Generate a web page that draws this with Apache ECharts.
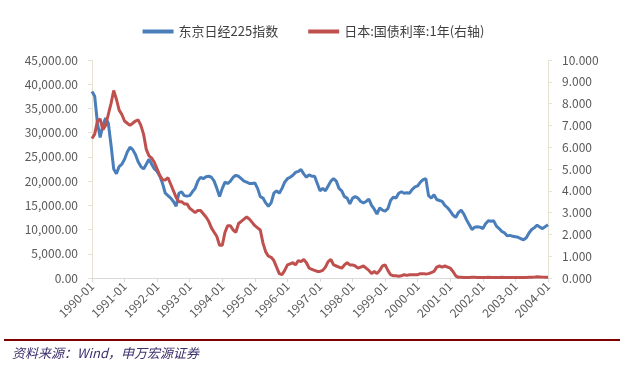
<!DOCTYPE html>
<html>
<head>
<meta charset="utf-8">
<script src="https://cdn.jsdelivr.net/npm/echarts@6/dist/echarts.min.js"></script>
<style>
html,body{margin:0;padding:0;background:#fff;}
#c{width:627px;height:366px;position:relative;}
#src{position:absolute;left:12px;top:343px;font-family:"Noto Sans CJK SC",sans-serif;font-style:italic;font-size:13px;color:#3d2f6b;}
#bar{position:absolute;left:4px;top:339px;width:616px;height:2px;background:#7f0000;}
</style>
</head>
<body>
<div id="c"></div>
<div id="bar"></div>
<div id="src">资料来源：Wind，申万宏源证券</div>
<script>
const seriesNames = ['东京日经225指数', '日本:国债利率:1年(右轴)'];
const startYear = 1990, endYear = 2004;
const categories = [];
for (let y = startYear; y <= endYear; y++) {
  for (let m = 1; m <= 12; m++) {
    if (y === endYear && m > 1) break;
    categories.push(y + '-' + (m < 10 ? '0' + m : m));
  }
}
const nikkei = [
  38500,37500,32000,29000,31500,33000,32000,27500,22500,21500,23000,23500,
  24500,26000,27000,26500,25500,24000,23000,22500,23500,24500,23500,22500,
  22000,21000,19500,17500,17000,16500,15800,14800,17500,17800,17000,16900,
  17000,17800,18500,20000,20800,20500,20900,21000,20800,20000,18500,16800,
  18500,19800,19500,20000,20800,21200,21000,20500,20000,19800,19500,19500,
  19600,18500,16800,16500,15500,14800,15500,17500,18000,17500,18500,19800,
  20500,20800,21200,21800,22000,22400,21500,20800,21300,21000,21000,19500,
  18000,18500,18000,19000,20000,20500,20000,18500,18000,16800,16500,15300,
  16500,16800,16500,15800,15500,15800,16300,15000,14200,13200,14500,14000,
  13800,14300,16000,16700,16500,17500,17800,17500,17600,17500,18300,18800,
  19000,19800,20300,20500,17000,16500,17200,16200,16000,15800,15000,14500,
  13800,13000,12500,13500,14000,13200,12000,11000,10000,10500,10600,10500,
  10200,11200,11800,11700,11800,10700,10200,9600,9300,8700,8800,8600,
  8500,8400,8100,7900,8300,9300,10000,10400,10900,10500,10200,10600,
  11000
];
const rate1y = [
  6.4,6.6,7.2,7.3,6.8,7.0,7.5,8.0,8.6,8.2,7.7,7.5,
  7.2,7.1,7.0,7.1,7.2,7.25,7.0,6.6,5.9,5.6,5.5,5.3,
  5.0,4.7,4.5,4.5,4.6,4.3,4.0,3.7,3.5,3.5,3.4,3.4,
  3.2,3.1,3.0,3.1,3.1,2.95,2.8,2.6,2.3,2.1,1.9,1.5,
  1.5,2.1,2.4,2.4,2.2,2.1,2.5,2.6,2.7,2.8,2.7,2.55,
  2.4,2.3,2.2,1.6,1.2,1.0,0.95,0.8,0.5,0.2,0.15,0.35,
  0.6,0.65,0.7,0.6,0.8,0.75,0.85,0.7,0.45,0.4,0.35,0.3,
  0.3,0.35,0.5,0.75,0.85,0.6,0.55,0.5,0.45,0.6,0.7,0.6,
  0.6,0.55,0.45,0.5,0.55,0.45,0.35,0.2,0.3,0.2,0.35,0.55,
  0.6,0.35,0.15,0.1,0.1,0.08,0.1,0.15,0.12,0.15,0.15,0.15,
  0.15,0.2,0.2,0.18,0.2,0.25,0.3,0.5,0.55,0.5,0.55,0.5,
  0.45,0.3,0.1,0.03,0.03,0.02,0.02,0.02,0.03,0.03,0.02,0.02,
  0.02,0.02,0.03,0.02,0.02,0.02,0.02,0.03,0.02,0.02,0.02,0.02,
  0.02,0.02,0.02,0.02,0.02,0.03,0.03,0.04,0.06,0.05,0.04,0.03,
  0.03
];
const leftTicks = {min: 0, max: 45000, interval: 5000};
const rightTicks = {min: 0, max: 10, interval: 1};

const chart = echarts.init(document.getElementById('c'), null, {renderer: 'canvas'});
const font = '"Noto Sans CJK SC", "Noto Sans", sans-serif';
chart.setOption({
  animation: false,
  backgroundColor: '#fff',
  textStyle: {fontFamily: font},
  legend: {
    top: 20,
    left: 'center',
    itemWidth: 31,
    itemHeight: 4,
    itemGap: 30,
    icon: 'rect',
    textStyle: {fontSize: 13, color: '#404040', fontFamily: font},
    data: seriesNames
  },
  grid: {left: 92, right: 79, top: 60, bottom: 88},
  xAxis: {
    type: 'category',
    boundaryGap: false,
    data: categories,
    axisLine: {lineStyle: {color: '#d9d9d9', width: 1}},
    axisTick: {interval: 11, length: 4, lineStyle: {color: '#d9d9d9'}},
    axisLabel: {interval: 11, rotate: 45, fontSize: 12, color: '#595959', margin: 6, fontFamily: font},
    splitLine: {show: false}
  },
  yAxis: [
    {
      type: 'value', min: leftTicks.min, max: leftTicks.max, interval: leftTicks.interval,
      axisLine: {show: true, lineStyle: {color: '#e6e2d3'}},
      axisTick: {show: true, length: 4, lineStyle: {color: '#e6e2d3'}},
      splitLine: {show: false},
      axisLabel: {
        fontSize: 12, color: '#595959', margin: 14, fontFamily: font,
        formatter: v => v.toLocaleString('en-US', {minimumFractionDigits: 2, maximumFractionDigits: 2})
      }
    },
    {
      type: 'value', min: rightTicks.min, max: rightTicks.max, interval: rightTicks.interval,
      axisLine: {show: true, lineStyle: {color: '#e6e2d3'}},
      axisTick: {show: true, length: 4, lineStyle: {color: '#e6e2d3'}},
      splitLine: {show: false},
      axisLabel: {fontSize: 12, color: '#595959', margin: 14, fontFamily: font, formatter: v => v.toFixed(3)}
    }
  ],
  series: [
    {
      name: seriesNames[0], type: 'line', yAxisIndex: 0, data: nikkei,
      showSymbol: false, symbol: 'none',
      lineStyle: {color: '#4a7ebb', width: 3}, itemStyle: {color: '#4a7ebb'}
    },
    {
      name: seriesNames[1], type: 'line', yAxisIndex: 1, data: rate1y,
      showSymbol: false, symbol: 'none',
      lineStyle: {color: '#c0504d', width: 3}, itemStyle: {color: '#c0504d'}
    }
  ]
});
</script>
</body>
</html>
